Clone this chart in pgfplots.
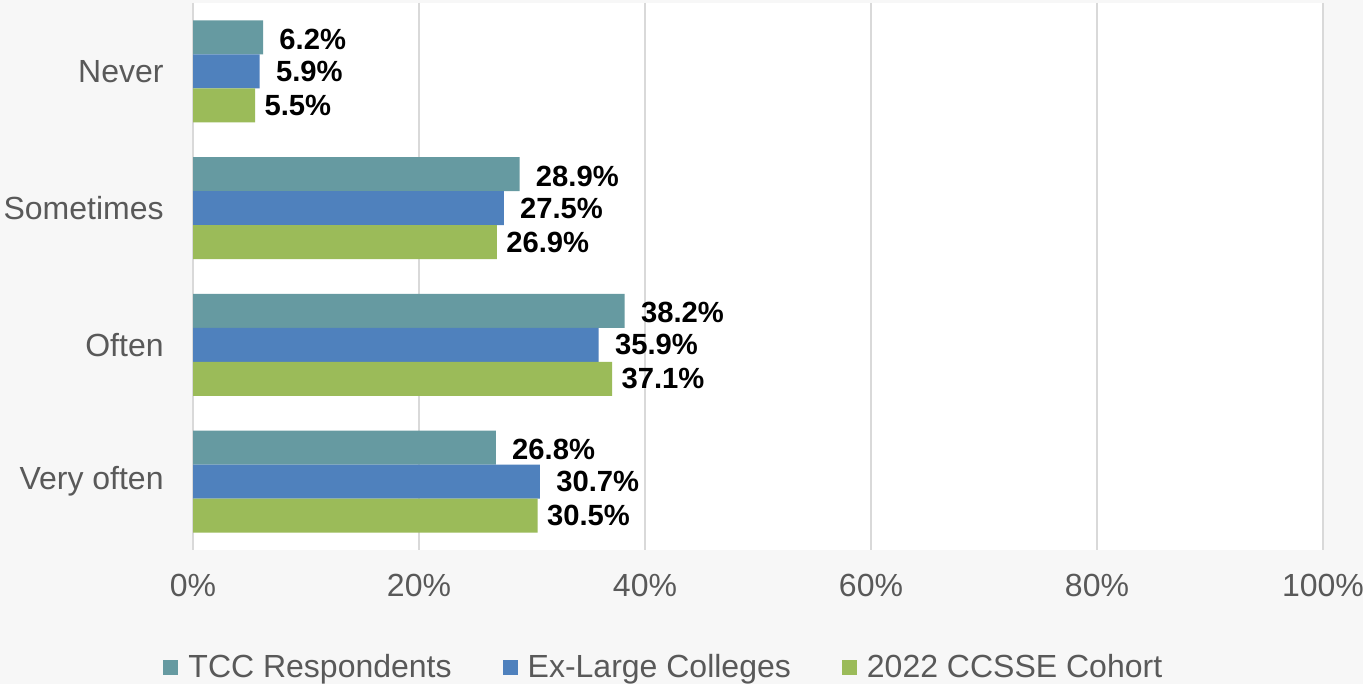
\documentclass[border=0pt]{standalone}
\usepackage{fontspec}
\setmainfont{Liberation Sans}
\usepackage{pgfplots}
\pgfplotsset{compat=1.18}
\definecolor{bg}{HTML}{F7F7F7}
\definecolor{tcc}{HTML}{669AA1}
\definecolor{exl}{HTML}{4F81BD}
\definecolor{ccs}{HTML}{9BBB59}
\definecolor{txt}{HTML}{595959}
\definecolor{grd}{HTML}{D9D9D9}
\begin{document}
\begin{tikzpicture}[x=1pt,y=1pt]
\fill[bg] (0,0) rectangle (681.5,342);
\useasboundingbox (0,0) rectangle (681.5,342);
\begin{axis}[
  at={(96.5pt,67pt)}, anchor=south west,
  scale only axis, width=565pt, height=273.5pt,
  xbar, bar width=17pt,
  xmin=0, xmax=100, ymin=-0.5, ymax=3.5, y dir=reverse,
  ytick={0,1,2,3}, yticklabels={Never,Sometimes,Often,Very often},
  xtick={0,20,40,60,80,100},
  xticklabels={0\%,20\%,40\%,60\%,80\%,100\%},
  xmajorgrids, grid style={grd, line width=1pt},
  axis line style={draw=none}, major tick length=0pt,
  axis background/.style={fill=white},
  tick label style={font=\fontsize{16}{19}\selectfont, text=txt},
  yticklabel style={anchor=east, inner sep=0pt, xshift=-14.5pt},
  xticklabel style={anchor=north, inner sep=0pt, yshift=-12pt},
  /pgf/number format/assume math mode=true,
  point meta=x,
  nodes near coords={\pgfmathprintnumber[fixed,fixed zerofill,precision=1]{\pgfplotspointmeta}\%},
  every node near coord/.style={anchor=west, inner sep=0pt, text=black,
    font=\bfseries\fontsize{14.6}{17}\selectfont},
  legend columns=3,
  legend style={at={(0.418,-0.214)}, anchor=center, draw=none, fill=none,
    font=\fontsize{16}{19}\selectfont, text=txt,
    /tikz/every even column/.append style={column sep=23pt},
    nodes={inner sep=2.5pt}},
  legend image code/.code={\fill[#1] (0pt,-3.75pt) rectangle (7.5pt,3.75pt);},
]
\addplot[fill=tcc, draw=none, bar shift=17pt,
  every node near coord/.append style={xshift=8pt, yshift=16pt}]
  coordinates {(6.2,0) (28.9,1) (38.2,2) (26.8,3)};
\addplot[fill=exl, draw=none, bar shift=0pt,
  every node near coord/.append style={xshift=8pt}]
  coordinates {(5.9,0) (27.5,1) (35.9,2) (30.7,3)};
\addplot[fill=ccs, draw=none, bar shift=-17pt,
  every node near coord/.append style={xshift=4.5pt, yshift=-17pt}]
  coordinates {(5.5,0) (26.9,1) (37.1,2) (30.5,3)};
\legend{\hspace{2.5pt}TCC Respondents, \hspace{2.5pt}Ex-Large Colleges, \hspace{2.5pt}2022 CCSSE Cohort}
\end{axis}
\end{tikzpicture}
\end{document}
